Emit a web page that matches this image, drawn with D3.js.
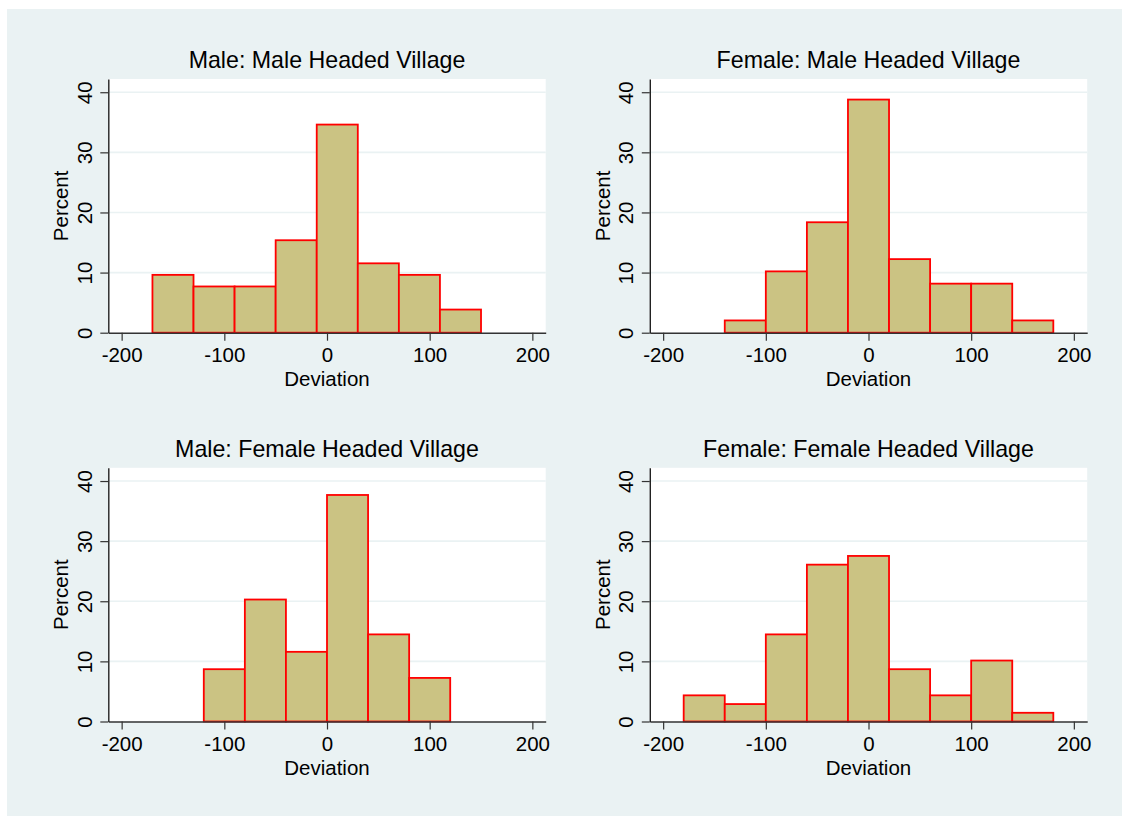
<!DOCTYPE html>
<html>
<head>
<meta charset="utf-8">
<script src="https://cdn.jsdelivr.net/npm/d3@7"></script>
<style>
  html, body { margin: 0; padding: 0; background: #fff; }
  text { font-family: "Liberation Sans", Arial, Helvetica, sans-serif; fill: #000; }
</style>
</head>
<body>
<div id="chart"></div>
<script>
// histogram data (percent per bin), bins are 40 wide
var titles = ["Male: Male Headed Village", "Female: Male Headed Village",
              "Male: Female Headed Village", "Female: Female Headed Village"];
var binStarts = [-170, -140, -120, -180];
var binWidth = 40;
var maleMaleHeaded = [9.62, 7.69, 7.69, 15.38, 34.62, 11.54, 9.62, 3.85];
var femaleMaleHeaded = [2.04, 10.20, 18.37, 38.78, 12.24, 8.16, 8.16, 2.04];
var maleFemaleHeaded = [8.70, 20.29, 11.59, 37.68, 14.49, 7.25];
var femaleFemaleHeaded = [4.35, 2.90, 14.49, 26.09, 27.54, 8.70, 4.35, 10.14, 1.45];
var xTicks = [-200, -100, 0, 100, 200];
var yTicks = [0, 10, 20, 30, 40];
var gridTicks = [10, 20, 30, 40];

var series = [maleMaleHeaded, femaleMaleHeaded, maleFemaleHeaded, femaleFemaleHeaded];

var width = 1122, height = 816;
var svg = d3.select('#chart').append('svg')
    .attr('width', width)
    .attr('height', height);

svg.append('rect')
    .attr('x', 7).attr('y', 9)
    .attr('width', width - 7).attr('height', height - 9)
    .attr('fill', '#eaf2f3');

var plotW = 437.4,
    plotH = 253.7,
    lefts = [108.3, 649.8],
    tops = [79, 467.8],
    fill = '#cbc383',
    plain = function(d) { return String(d); };

series.forEach(function(values, k) {
    var x0 = lefts[k % 2], y0 = tops[Math.floor(k / 2)];

    var x = d3.scaleLinear().domain([-213, 213]).range([0, plotW]);
    var y = d3.scaleLinear().domain([0, 42.2]).range([plotH, 0]);

    var g = svg.append('g').attr('transform', 'translate(' + x0 + ',' + y0 + ')');

    g.append('rect')
        .attr('width', plotW).attr('height', plotH)
        .attr('fill', '#fff');

    g.selectAll('line.grid')
        .data(gridTicks)
        .enter()
        .append('line')
        .attr('class', 'grid')
        .attr('x1', 0).attr('x2', plotW)
        .attr('y1', function(d) { return y(d); })
        .attr('y2', function(d) { return y(d); })
        .attr('stroke', '#eaf2f3')
        .attr('stroke-width', 1.6);

    var bins = values.map(function(v, i) {
        return { x0: binStarts[k] + i * binWidth, x1: binStarts[k] + (i + 1) * binWidth, v: v };
    });

    g.selectAll('rect.bar')
        .data(bins)
        .enter()
        .append('rect')
        .attr('class', 'bar')
        .attr('x', function(d) { return x(d.x0); })
        .attr('width', function(d) { return x(d.x1) - x(d.x0); })
        .attr('y', function(d) { return y(d.v); })
        .attr('height', function(d) { return y(0) - y(d.v); })
        .attr('fill', fill)
        .attr('stroke', '#ff0000')
        .attr('stroke-width', 1.8);

    // x axis
    var xa = g.append('g')
        .attr('transform', 'translate(0,' + plotH + ')')
        .call(d3.axisBottom(x).tickValues(xTicks).tickFormat(plain).tickSize(8).tickSizeOuter(0));
    xa.select('.domain').attr('stroke', '#333').attr('stroke-width', 1.4);
    xa.selectAll('.tick line').attr('stroke', '#333').attr('stroke-width', 1.2);
    xa.selectAll('.tick text')
        .attr('y', 29).attr('dy', 0)
        .style('font-size', '20.5px');

    // y axis
    var ya = g.append('g')
        .call(d3.axisLeft(y).tickValues(yTicks).tickFormat(plain).tickSize(8).tickSizeOuter(0));
    ya.select('.domain').attr('stroke', '#222').attr('stroke-width', 1.4);
    ya.selectAll('.tick line').attr('stroke', '#333').attr('stroke-width', 1.2);
    ya.selectAll('.tick text')
        .attr('transform', 'rotate(-90)')
        .attr('x', 0).attr('y', -16.8).attr('dy', 0)
        .attr('text-anchor', 'middle')
        .style('font-size', '20.5px');

    // titles
    g.append('text')
        .attr('x', plotW / 2).attr('y', -11.3)
        .attr('text-anchor', 'middle')
        .style('font-size', '23.2px')
        .text(titles[k]);

    g.append('text')
        .attr('x', plotW / 2).attr('y', plotH + 53.3)
        .attr('text-anchor', 'middle')
        .style('font-size', '20.5px')
        .text('Deviation');

    g.append('text')
        .attr('transform', 'translate(-40,' + (plotH / 2) + ') rotate(-90)')
        .attr('text-anchor', 'middle')
        .style('font-size', '20.5px')
        .text('Percent');
});
</script>
</body>
</html>
